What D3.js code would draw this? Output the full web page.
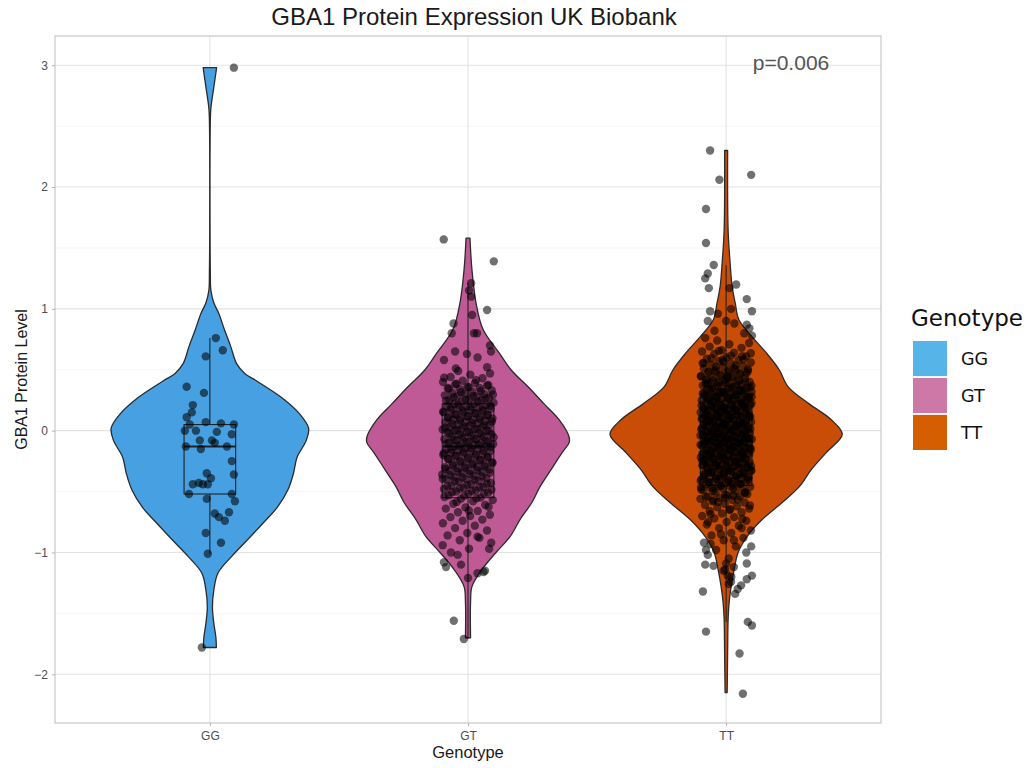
<!DOCTYPE html>
<html>
<head>
<meta charset="utf-8">
<script src="https://cdn.jsdelivr.net/npm/d3@7"></script>
<style>
  html, body { margin: 0; padding: 0; background: #ffffff; }
  svg { display: block; }
</style>
</head>
<body>
<svg id="chart" width="1027" height="768"></svg>
<script>
// ---- data ----------------------------------------------------------------
const genotypes = ["GG", "GT", "TT"];
const yTicks = [-2, -1, 0, 1, 2, 3];
const yMinor = [-1.5, -0.5, 0.5, 1.5, 2.5];
const pLabel = "p=0.006";

const violinFill = ["#47a0e2", "#bf5a97", "#c94d06"];
const legendFill = ["#56b4e9", "#cc79a7", "#d55e00"];

// violin outlines: [protein level, relative density]
const ggViolin = [[2.98,0.058],[2.82,0.034],[2.65,0.009],[2.55,0.004],[1.30,0.004],[1.15,0.009],[1.05,0.034],[0.96,0.078],[0.83,0.125],[0.69,0.18],[0.55,0.23],[0.47,0.30],[0.41,0.40],[0.27,0.62],[0.14,0.77],[0.02,0.85],[-0.08,0.83],[-0.22,0.75],[-0.35,0.72],[-0.49,0.67],[-0.63,0.58],[-0.76,0.457],[-0.90,0.32],[-1.03,0.19],[-1.17,0.069],[-1.31,0.034],[-1.45,0.022],[-1.58,0.034],[-1.70,0.052],[-1.78,0.056]];
const gtViolin = [[1.58,0.017],[1.32,0.034],[1.05,0.069],[0.83,0.13],[0.64,0.267],[0.50,0.37],[0.36,0.517],[0.22,0.655],[0.09,0.784],[-0.05,0.87],[-0.10,0.87],[-0.18,0.81],[-0.32,0.715],[-0.46,0.62],[-0.59,0.55],[-0.73,0.448],[-0.87,0.362],[-1.00,0.241],[-1.14,0.12],[-1.28,0.034],[-1.41,0.022],[-1.70,0.022]];
const ttViolin = [[2.30,0.013],[1.65,0.017],[1.38,0.034],[1.18,0.052],[1.05,0.078],[0.91,0.11],[0.77,0.224],[0.64,0.345],[0.50,0.457],[0.36,0.534],[0.22,0.715],[0.09,0.905],[-0.03,1.0],[-0.18,0.862],[-0.32,0.733],[-0.46,0.63],[-0.59,0.483],[-0.73,0.31],[-0.87,0.18],[-1.00,0.103],[-1.14,0.069],[-1.28,0.043],[-1.41,0.026],[-1.55,0.017],[-1.82,0.013],[-2.15,0.009]];

// box plot summaries: [lower whisker, Q1, median, Q3, upper whisker]
const ggBox = [-1.01, -0.52, -0.13, 0.05, 0.76];
const gtBox = [-1.71, -0.55, -0.13, 0.22, 1.21];
const ttBox = [-1.57, -0.45, -0.08, 0.30, 1.36];

// individual observations with their jitter: [protein level, jitter]
const ggPoints = [[2.98,0.093],[0.76,0.023],[0.66,0.05],[0.61,-0.016],[0.36,-0.09],[0.31,-0.023],[0.21,-0.066],[0.15,-0.07],[0.11,-0.09],[0.05,-0.078],[0.07,-0.016],[0.06,0.043],[0.05,0.093],[0.00,-0.097],[0.00,-0.054],[-0.01,0.027],[-0.03,0.085],[-0.08,-0.039],[-0.08,0.008],[-0.10,0.019],[-0.13,-0.093],[-0.15,-0.035],[-0.13,0.066],[-0.25,0.085],[-0.35,-0.012],[-0.39,0.004],[-0.36,0.093],[-0.44,-0.066],[-0.43,-0.043],[-0.44,-0.027],[-0.44,-0.008],[-0.52,-0.081],[-0.52,0.085],[-0.56,-0.012],[-0.58,0.097],[-0.68,0.019],[-0.71,0.035],[-0.67,0.074],[-0.74,0.058],[-0.84,-0.016],[-0.92,0.043],[-1.01,-0.008],[-1.78,-0.031]];

const gtOuter = [[1.57,-0.094],[1.39,0.10],[1.21,0.012],[1.15,0.004],[1.10,0.012],[0.99,0.074],[0.88,-0.056],[0.80,-0.063],[0.95,0.016],[0.80,0.023],[0.80,0.035],[0.70,0.085],[0.65,0.089],[0.65,-0.05],[0.63,-0.004],[0.58,-0.093],[0.60,0.037],[0.52,0.074],[0.51,-0.047],
  [-0.94,-0.098],[-1.00,-0.066],[-1.02,-0.04],[-0.97,0.004],[-0.87,0.037],[-0.97,0.082],[-0.92,0.09],[-1.08,-0.093],[-1.12,-0.085],[-1.10,-0.027],[-1.21,0.0],[-1.17,0.037],[-1.16,0.06],[-1.15,0.066],[-1.56,-0.055],[-1.71,-0.016]];
const gtCore = [0.49,0.47,0.46,0.44,0.43,0.41,0.40,
  0.39,0.38,0.37,0.36,0.35,0.35,0.34,0.33,0.32,0.31,0.30,0.30,
  0.29,0.28,0.28,0.27,0.26,0.25,0.25,0.24,0.23,0.22,0.22,0.21,0.20,0.20,
  0.19,0.19,0.18,0.17,0.17,0.16,0.15,0.15,0.14,0.13,0.13,0.12,0.11,0.11,0.10,0.10,
  0.09,0.09,0.08,0.07,0.07,0.06,0.05,0.05,0.04,0.03,0.03,0.02,0.01,0.01,0.00,0.00,
  -0.01,-0.01,-0.02,-0.03,-0.03,-0.04,-0.05,-0.05,-0.06,-0.07,-0.07,-0.08,-0.09,-0.09,-0.10,-0.10,
  -0.11,-0.11,-0.12,-0.13,-0.13,-0.14,-0.15,-0.15,-0.16,-0.17,-0.17,-0.18,-0.19,-0.19,-0.20,
  -0.21,-0.21,-0.22,-0.23,-0.23,-0.24,-0.25,-0.26,-0.27,-0.27,-0.28,-0.29,-0.30,-0.30,
  -0.31,-0.32,-0.33,-0.33,-0.34,-0.35,-0.36,-0.37,-0.38,-0.39,-0.40,-0.40,
  -0.41,-0.42,-0.43,-0.44,-0.45,-0.46,-0.47,-0.48,-0.49,-0.50,
  -0.51,-0.52,-0.53,-0.55,-0.56,-0.57,-0.58,-0.60,
  -0.61,-0.63,-0.64,-0.66,-0.67,-0.69,-0.70,
  -0.71,-0.73,-0.74,-0.76,-0.78,-0.80,
  -0.82,-0.84,-0.86,-0.88,-0.90];
const gtCoreB = [0.435,0.415,0.385,0.375,0.355,0.345,0.325,0.315,0.295,0.285,0.275,0.265,0.255,0.245,0.235,0.215,0.205,
  0.195,0.185,0.175,0.165,0.155,0.145,0.135,0.125,0.115,0.105,0.095,0.085,0.075,0.065,0.055,0.045,0.035,0.025,0.015,0.005,
  -0.005,-0.015,-0.025,-0.035,-0.045,-0.055,-0.065,-0.075,-0.085,-0.095,-0.105,-0.115,-0.125,-0.135,-0.145,-0.155,-0.165,
  -0.175,-0.185,-0.195,-0.205,-0.215,-0.225,-0.235,-0.245,-0.255,-0.265,-0.275,-0.285,-0.295,-0.305,-0.315,-0.325,-0.335,
  -0.345,-0.355,-0.365,-0.375,-0.385,-0.395,-0.405,-0.415,-0.435,-0.445,-0.455,-0.465,-0.475,-0.485,-0.495,-0.505,-0.515,
  -0.535,-0.545,-0.555,-0.585,-0.625,-0.655];

const ttOuter = [[2.30,-0.062],[2.10,0.097],[2.06,-0.026],[1.82,-0.078],[1.54,-0.078],[1.36,-0.048],[1.29,-0.071],[1.25,-0.081],[1.17,-0.067],[1.20,0.039],[1.17,0.013],[1.08,0.08],[0.98,0.10],[0.98,-0.062],[0.96,-0.032],[1.00,0.019],[0.90,-0.071],[0.87,0.08],[0.84,0.09],[0.78,0.10],[0.76,-0.081],[0.82,-0.045],[0.90,0.0],[0.88,0.032],[0.80,0.07],
  [-2.16,0.065],[-1.83,0.052],[-1.65,-0.078],[-1.57,0.084],[-1.60,0.10],[-1.32,-0.09],[-1.19,0.10],[-1.22,0.08],[-1.27,0.058],[-1.30,0.045],[-1.34,0.035],[-1.24,0.019],[-1.19,0.006],[-1.10,-0.081],[-1.11,-0.049],[-1.09,0.08],[-1.02,-0.071],[-0.98,-0.078],[-0.95,0.097],[-1.00,0.078],[-1.09,0.0],[-1.14,-0.004],
  [-0.75,-0.07],[-0.80,0.06],[-0.85,-0.02],[-0.90,0.03],[-0.93,-0.06],[-1.05,0.01],[-1.12,0.03],[-1.15,-0.01],[-1.20,0.02],[-1.26,0.01]];
const ttCore = [0.74,0.72,0.71,
  0.69,0.68,0.66,0.65,0.64,0.63,0.61,0.60,
  0.59,0.58,0.57,0.56,0.55,0.54,0.53,0.52,0.51,0.50,0.50,
  0.49,0.48,0.48,0.47,0.46,0.45,0.45,0.44,0.43,0.42,0.42,0.41,0.40,0.40,
  0.39,0.39,0.38,0.37,0.37,0.36,0.35,0.35,0.34,0.34,0.33,0.32,0.32,0.31,0.30,0.30,0.30,
  0.29,0.29,0.28,0.28,0.27,0.27,0.26,0.26,0.25,0.25,0.24,0.24,0.23,0.23,0.22,0.22,0.21,0.21,0.20,0.20,
  0.19,0.19,0.18,0.18,0.18,0.17,0.17,0.16,0.16,0.15,0.15,0.15,0.14,0.14,0.13,0.13,0.12,0.12,0.12,0.11,0.11,0.10,0.10,
  0.09,0.09,0.09,0.08,0.08,0.07,0.07,0.07,0.06,0.06,0.05,0.05,0.05,0.04,0.04,0.03,0.03,0.03,0.02,0.02,0.01,0.01,0.01,0.00,0.00,
  -0.01,-0.01,-0.02,-0.02,-0.02,-0.03,-0.03,-0.04,-0.04,-0.05,-0.05,-0.05,-0.06,-0.06,-0.07,-0.07,-0.07,-0.08,-0.08,-0.09,-0.09,-0.09,-0.10,-0.10,-0.10,
  -0.11,-0.11,-0.12,-0.12,-0.12,-0.13,-0.13,-0.14,-0.14,-0.15,-0.15,-0.15,-0.16,-0.16,-0.17,-0.17,-0.18,-0.18,-0.18,-0.19,-0.19,-0.20,-0.20,
  -0.21,-0.21,-0.22,-0.22,-0.23,-0.23,-0.24,-0.24,-0.25,-0.25,-0.26,-0.26,-0.27,-0.27,-0.28,-0.28,-0.29,-0.29,-0.30,-0.30,
  -0.31,-0.31,-0.32,-0.33,-0.33,-0.34,-0.35,-0.35,-0.36,-0.37,-0.37,-0.38,-0.38,-0.39,-0.39,-0.40,-0.40,
  -0.41,-0.42,-0.42,-0.43,-0.44,-0.44,-0.45,-0.46,-0.46,-0.47,-0.48,-0.48,-0.49,-0.50,
  -0.51,-0.52,-0.53,-0.54,-0.54,-0.55,-0.56,-0.57,-0.58,-0.59,-0.60,
  -0.61,-0.62,-0.63,-0.64,-0.65,-0.66,-0.67,-0.68,-0.70,
  -0.71,-0.72,-0.74,-0.75,-0.77,-0.78,-0.80,
  -0.82,-0.84,-0.86,-0.88,-0.90,
  -0.92,-0.95,-0.98];
const ttCoreB = [0.655,0.635,0.615,0.595,0.585,0.565,0.555,0.535,0.525,0.505,0.495,0.485,0.465,0.455,0.445,0.435,0.415,0.405,
  0.395,0.385,0.375,0.365,0.355,0.345,0.335,0.325,0.315,0.305,0.295,0.285,0.275,0.265,0.255,0.245,0.235,0.225,0.215,0.205,
  0.195,0.185,0.175,0.165,0.155,0.145,0.135,0.125,0.115,0.105,0.095,0.085,0.075,0.065,0.055,0.045,0.035,0.025,0.015,0.005,
  -0.005,-0.015,-0.025,-0.035,-0.045,-0.055,-0.065,-0.075,-0.085,-0.095,-0.105,-0.115,-0.125,-0.135,-0.145,-0.155,-0.165,
  -0.175,-0.185,-0.195,-0.205,-0.215,-0.225,-0.235,-0.245,-0.255,-0.265,-0.275,-0.285,-0.295,-0.305,-0.315,-0.325,-0.335,
  -0.345,-0.355,-0.365,-0.375,-0.385,-0.395,-0.405,-0.415,-0.425,-0.435,-0.455,-0.465,-0.475,-0.495,-0.505,-0.525,-0.545,
  -0.565,-0.585,-0.615,-0.645,-0.685,-0.725];
const ttCoreC = [0.428,0.382,0.338,0.307,0.278,0.252,0.233,0.212,0.192,0.173,0.158,0.137,0.118,0.097,0.078,0.057,0.038,0.018,
  -0.002,-0.022,-0.042,-0.062,-0.083,-0.102,-0.122,-0.143,-0.162,-0.182,-0.203,-0.222,-0.243,-0.262,-0.283,-0.302,-0.322,
  -0.343,-0.362,-0.383,-0.412,-0.442,-0.472,-0.512,-0.552,0.118,0.048,-0.028,-0.068,-0.138,-0.208,0.222,0.162,-0.288];
const ttCoreD = [0.612,0.583,0.553,0.512,0.486,0.473,0.447,0.418,0.411,0.396,0.368,0.361,0.347,0.336,0.318,0.311,0.297,
  0.268,0.264,0.261,0.247,0.228,0.211,0.207,0.187,0.186,0.168,0.161,0.147,0.126,0.114,0.111,0.108,0.087,0.066,0.061,0.047,
  0.036,0.026,0.011,0.008,-0.013,-0.033,-0.036,-0.039,-0.052,-0.073,-0.089,-0.092,-0.113,-0.117,-0.132,-0.139,-0.153,-0.172,
  -0.186,-0.189,-0.193,-0.212,-0.233,-0.239,-0.252,-0.267,-0.273,-0.289,-0.292,-0.313,-0.332,-0.336,-0.339,-0.353,-0.372,
  -0.389,-0.393,-0.407,-0.423,-0.439,-0.452,-0.483,-0.532,-0.573];

// ---- layout ----------------------------------------------------------------
const svg = d3.select("#chart");
const panel = { left: 55, right: 881, top: 36, bottom: 723 };

const x = d3.scalePoint().domain(genotypes).range([panel.left, panel.right]).padding(0.6);
const y = d3.scaleLinear().domain([-2.40, 3.24]).range([panel.bottom, panel.top]);
const step = x.step();
const halfWidth = d3.scaleLinear().domain([0, 1]).range([0, 0.45 * step]);
const jitterPx = d3.scaleLinear().domain([-1, 1]).range([-step, step]);
const colour = d3.scaleOrdinal().domain(genotypes).range(violinFill);
const keyColour = d3.scaleOrdinal().domain(genotypes).range(legendFill);

const sans = "'Liberation Sans', Arial, Helvetica, sans-serif";
const legendFont = "'DejaVu Sans', Verdana, sans-serif";

// panel gridlines
const grid = svg.append("g");
grid.selectAll("line.minor").data(yMinor).join("line")
  .attr("x1", panel.left).attr("x2", panel.right)
  .attr("y1", d => y(d)).attr("y2", d => y(d))
  .attr("stroke", "#f0f0f0").attr("stroke-width", 0.6);
grid.selectAll("line.major").data(yTicks).join("line")
  .attr("x1", panel.left).attr("x2", panel.right)
  .attr("y1", d => y(d)).attr("y2", d => y(d))
  .attr("stroke", "#e2e2e2").attr("stroke-width", 1.1);
grid.selectAll("line.vmajor").data(genotypes).join("line")
  .attr("x1", d => x(d)).attr("x2", d => x(d))
  .attr("y1", panel.top).attr("y2", panel.bottom)
  .attr("stroke", "#e2e2e2").attr("stroke-width", 1.1);

// violins
const violins = [ggViolin, gtViolin, ttViolin];
const violinG = svg.append("g");
genotypes.forEach((g, i) => {
  const cx = x(g);
  const area = d3.area()
    .curve(d3.curveCatmullRom.alpha(0.5))
    .y(d => y(d[0]))
    .x0(d => cx - halfWidth(d[1]))
    .x1(d => cx + halfWidth(d[1]));
  violinG.append("path")
    .datum(violins[i])
    .attr("d", area)
    .attr("fill", colour(g))
    .attr("stroke", "#2b2b2b")
    .attr("stroke-width", 1.3)
    .attr("stroke-linejoin", "round");
});

// box plots
const boxes = [ggBox, gtBox, ttBox];
const boxW = 0.1 * step;
const boxG = svg.append("g").attr("stroke", "#222222").attr("fill", "none");
genotypes.forEach((g, i) => {
  const cx = x(g);
  const b = boxes[i];
  boxG.append("line").attr("x1", cx).attr("x2", cx).attr("y1", y(b[3])).attr("y2", y(b[4])).attr("stroke-width", 1.1);
  boxG.append("line").attr("x1", cx).attr("x2", cx).attr("y1", y(b[1])).attr("y2", y(b[0])).attr("stroke-width", 1.1);
  boxG.append("rect").attr("x", cx - boxW).attr("width", 2 * boxW)
    .attr("y", y(b[3])).attr("height", y(b[1]) - y(b[3])).attr("stroke-width", 1.1);
  boxG.append("line").attr("x1", cx - boxW).attr("x2", cx + boxW)
    .attr("y1", y(b[2])).attr("y2", y(b[2])).attr("stroke-width", 2.2);
});

// jittered observations; the dense middle of each group is spread with a
// golden-ratio sequence so the cloud fills the jitter band evenly
const golden = 0.6180339887;
function spread(values, offset) {
  return values.map((v, i) => [v, (((i + offset) * golden) % 1) * 0.2 - 0.1]);
}
const pointSets = [
  ggPoints,
  gtOuter.concat(spread(gtCore, 0.5), spread(gtCoreB, 3.3)),
  ttOuter.concat(spread(ttCore, 7), spread(ttCoreB, 2.2), spread(ttCoreC, 5.7), spread(ttCoreD, 9.4))
];
const pointG = svg.append("g");
genotypes.forEach((g, i) => {
  pointG.append("g").selectAll("circle").data(pointSets[i]).join("circle")
    .attr("cx", d => x(g) + jitterPx(d[1]))
    .attr("cy", d => y(d[0]))
    .attr("r", 4.2)
    .attr("fill", "#000000")
    .attr("fill-opacity", 0.56);
});

// panel border
svg.append("rect")
  .attr("x", panel.left).attr("y", panel.top)
  .attr("width", panel.right - panel.left).attr("height", panel.bottom - panel.top)
  .attr("fill", "none").attr("stroke", "#c4c4c4").attr("stroke-width", 1.1);

// axes
const yAxis = svg.append("g")
  .attr("transform", `translate(${panel.left},0)`)
  .call(d3.axisLeft(y).tickValues(yTicks).tickSize(3).tickPadding(4).tickFormat(d3.format("d")));
const xAxis = svg.append("g")
  .attr("transform", `translate(0,${panel.bottom})`)
  .call(d3.axisBottom(x).tickSize(3).tickPadding(5));
[yAxis, xAxis].forEach(a => {
  a.select(".domain").remove();
  a.selectAll(".tick line").attr("stroke", "#b3b3b3");
  a.selectAll(".tick text").attr("fill", "#4d4d4d").style("font-family", sans).style("font-size", "12px");
});

// titles
svg.append("text")
  .attr("x", 474).attr("y", 25)
  .attr("text-anchor", "middle")
  .style("font-family", sans).style("font-size", "24px").attr("fill", "#1a1a1a")
  .text("GBA1 Protein Expression UK Biobank");
svg.append("text")
  .attr("x", x("GT")).attr("y", 758)
  .attr("text-anchor", "middle")
  .style("font-family", sans).style("font-size", "16.5px").attr("fill", "#1a1a1a")
  .text("Genotype");
svg.append("text")
  .attr("transform", `translate(27,${(panel.top + panel.bottom) / 2}) rotate(-90)`)
  .attr("text-anchor", "middle")
  .style("font-family", sans).style("font-size", "16px").attr("fill", "#1a1a1a")
  .text("GBA1 Protein Level");

// p-value annotation
svg.append("text")
  .attr("x", 791).attr("y", 70)
  .attr("text-anchor", "middle")
  .style("font-family", sans).style("font-size", "21px").attr("fill", "#555555")
  .text(pLabel);

// legend
const legend = svg.append("g").attr("transform", "translate(911,0)");
legend.append("text")
  .attr("x", 0).attr("y", 326)
  .style("font-family", legendFont).style("font-size", "23px").attr("fill", "#111111")
  .text("Genotype");
const keyY = d3.scaleBand().domain(genotypes).range([341, 450]).paddingInner(0.05);
legend.selectAll("rect.key").data(genotypes).join("rect")
  .attr("x", 2).attr("y", d => keyY(d))
  .attr("width", 34).attr("height", keyY.bandwidth())
  .attr("fill", d => keyColour(d));
legend.selectAll("text.key").data(genotypes).join("text")
  .attr("x", 50).attr("y", d => keyY(d) + keyY.bandwidth() / 2 + 6.5)
  .style("font-family", legendFont).style("font-size", "17.5px").attr("fill", "#111111")
  .text(d => d);
</script>
</body>
</html>
